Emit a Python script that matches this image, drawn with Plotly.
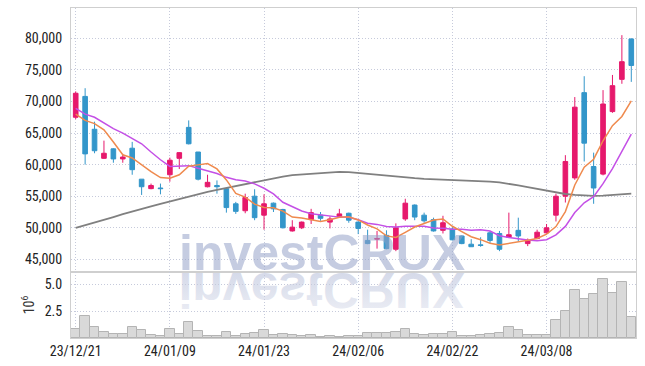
import base64
import plotly.graph_objects as go
from plotly.subplots import make_subplots

dates = ["23/12/21", "23/12/22", "23/12/26", "23/12/27", "23/12/28",
         "24/01/02", "24/01/03", "24/01/04", "24/01/05", "24/01/08",
         "24/01/09", "24/01/10", "24/01/11", "24/01/12", "24/01/15",
         "24/01/16", "24/01/17", "24/01/18", "24/01/19", "24/01/22",
         "24/01/23", "24/01/24", "24/01/25", "24/01/26", "24/01/29",
         "24/01/30", "24/01/31", "24/02/01", "24/02/02", "24/02/05",
         "24/02/06", "24/02/07", "24/02/08", "24/02/13", "24/02/14",
         "24/02/15", "24/02/16", "24/02/19", "24/02/20", "24/02/21",
         "24/02/22", "24/02/23", "24/02/26", "24/02/27", "24/02/28",
         "24/02/29", "24/03/04", "24/03/05", "24/03/06", "24/03/07",
         "24/03/08", "24/03/11", "24/03/12", "24/03/13", "24/03/14",
         "24/03/15", "24/03/18", "24/03/19", "24/03/20", "24/03/21"]

open_ = [67500, 70800, 65600, 61000, 62500, 60900, 62600, 57700, 56200, 56300,
         58400, 61000, 65900, 62000, 56500, 56700, 56200, 53800, 52700, 55000,
         52000, 53900, 52900, 49500, 50000, 51300, 52000, 50900, 51700, 52300,
         50900, 48000, 48200, 48800, 46600, 51400, 53600, 52000, 51300, 49600,
         49800, 48700, 47400, 47300, 49200, 49100, 48500, 49600, 47500, 48300,
         49200, 52000, 55000, 57900, 71400, 59700, 58500, 68400, 73500, 79900]
high = [71600, 72100, 66800, 63800, 62600, 61700, 63600, 57700, 57000, 57000,
        61100, 62000, 67000, 62000, 58400, 57500, 56300, 54100, 55400, 56100,
        55300, 54000, 53000, 51200, 51000, 53000, 52500, 51800, 53000, 52400,
        51000, 49700, 49500, 49600, 50700, 54600, 53700, 52400, 51600, 51900,
        50100, 48800, 48200, 48500, 49500, 49500, 52400, 51600, 48300, 49700,
        50600, 55400, 61500, 70700, 74000, 61900, 71800, 74200, 80500, 80000]
low = [67200, 60000, 61800, 60900, 60300, 60300, 58400, 55200, 56100, 55300,
       57300, 59300, 63200, 57500, 56400, 55400, 52400, 52200, 52300, 51200,
       49700, 52500, 49900, 49400, 49800, 50600, 51100, 49900, 51700, 50800,
       49000, 47400, 46700, 46600, 46300, 51100, 51200, 50800, 49400, 49100,
       48000, 47400, 47000, 47000, 47600, 46300, 48400, 47900, 47100, 48200,
       49100, 51000, 54000, 57600, 60500, 53800, 58300, 68200, 72800, 73100]
close = [71300, 61700, 62200, 61800, 60900, 61200, 59200, 56500, 56700, 56200,
         60700, 61900, 63300, 57700, 57200, 56500, 53200, 52600, 54800, 51600,
         53800, 53000, 50000, 50100, 50900, 52400, 51500, 51400, 52200, 51200,
         49900, 47500, 48300, 46700, 50000, 53900, 51700, 51100, 49500, 50800,
         48100, 47500, 47000, 47200, 48000, 46600, 48900, 48700, 48000, 49300,
         50000, 55000, 60500, 69100, 63400, 56300, 69600, 72500, 76300, 75700]

ma5 = [68000, 67000, 66500, 65500, 63580, 61560, 61060, 59920, 58900, 57960,
       57860, 58400, 59760, 59960, 60160, 59320, 57580, 55440, 54860, 53740,
       53200, 53160, 52640, 51700, 51560, 51280, 50980, 51260, 51680, 51740,
       51240, 50440, 49820, 48720, 48480, 49280, 50120, 50680, 51240, 51400,
       50240, 49400, 48580, 48120, 47560, 47260, 47540, 47880, 48040, 48300,
       48980, 50200, 52560, 56780, 59600, 60860, 63780, 66180, 67620, 70080]
ma10 = [68900, 68000, 67500, 66600, 65700, 65000, 64200, 63300, 62000, 60770,
        59710, 59730, 59840, 59430, 59060, 58590, 57990, 57600, 57410, 56950,
        56260, 55370, 54040, 53280, 52650, 52240, 52070, 51950, 51690, 51650,
        51260, 50710, 50540, 50200, 50110, 50260, 50280, 50250, 49980, 49940,
        49760, 49760, 49630, 49680, 49480, 48750, 48470, 48230, 48080, 47930,
        48120, 48870, 50220, 52410, 53950, 54920, 56990, 59370, 62200, 64840]
ma60 = [50000, 50400, 50800, 51250, 51700, 52150, 52600, 53000, 53400, 53800,
        54200, 54600, 55000, 55350, 55700, 56000, 56300, 56650, 57000, 57250,
        57500, 57800, 58100, 58350, 58450, 58600, 58700, 58800, 58860, 58800,
        58650, 58500, 58350, 58200, 58050, 57950, 57850, 57750, 57700, 57650,
        57550, 57500, 57450, 57350, 57300, 57200, 57000, 56700, 56450, 56150,
        55850, 55550, 55350, 55200, 55100, 55050, 55100, 55200, 55300, 55400]

volume_m = [0.84, 2.09, 1.03, 0.56, 0.38, 0.38, 1.03, 0.75, 0.28, 0.16,
            0.84, 0.38, 1.50, 0.66, 0.19, 0.19, 0.56, 0.19, 0.38, 0.47,
            0.75, 0.28, 0.38, 0.28, 0.19, 0.28, 0.09, 0.19, 0.12, 0.15,
            0.22, 0.50, 0.44, 0.50, 0.60, 0.88, 0.41, 0.28, 0.34, 0.41,
            0.60, 0.19, 0.19, 0.31, 0.41, 0.50, 1.06, 0.78, 0.31, 0.31,
            0.31, 1.69, 2.56, 4.44, 3.66, 4.06, 5.53, 4.16, 5.19, 2.00]

price_ticks = [45000, 50000, 55000, 60000, 65000, 70000, 75000, 80000]
price_tick_labels = ["45,000", "50,000", "55,000", "60,000", "65,000",
                     "70,000", "75,000", "80,000"]
vol_ticks = [2.5, 5.0]
vol_tick_labels = ["2.5", "5.0"]
date_ticks = ["23/12/21", "24/01/09", "24/01/23", "24/02/06", "24/02/22", "24/03/08"]
watermark = "investCRUX"

RED = "#e6196c"
BLUE = "#3396ca"
GRID = "#c6cadb"
BORDER = "#cfcfcf"
FONT = "Roboto Condensed, Roboto, sans-serif"
TICKFONT = dict(family=FONT, size=14, color="#222222")

fig = make_subplots(rows=2, cols=1, shared_xaxes=True, vertical_spacing=0,
                    row_heights=[0.8, 0.2])

fig.add_trace(go.Candlestick(
    x=dates, open=open_, high=high, low=low, close=close,
    increasing=dict(line=dict(color=RED, width=1), fillcolor=RED),
    decreasing=dict(line=dict(color=BLUE, width=1), fillcolor=BLUE),
    whiskerwidth=0, showlegend=False, hoverinfo="skip"), row=1, col=1)

fig.add_trace(go.Scatter(x=dates, y=ma60, mode="lines",
                         line=dict(color="#808080", width=1.8),
                         showlegend=False, hoverinfo="skip"), row=1, col=1)
fig.add_trace(go.Scatter(x=dates, y=ma10, mode="lines",
                         line=dict(color="#c450e6", width=1.5),
                         showlegend=False, hoverinfo="skip"), row=1, col=1)
fig.add_trace(go.Scatter(x=dates, y=ma5, mode="lines",
                         line=dict(color="#ef8a4e", width=1.5),
                         showlegend=False, hoverinfo="skip"), row=1, col=1)

fig.add_trace(go.Bar(x=dates, y=volume_m,
                     marker=dict(color="#d9d9d9", line=dict(color="#b4b4b4", width=1)),
                     showlegend=False, hoverinfo="skip"), row=2, col=1)

axis_common = dict(showline=True, mirror=True, linecolor=BORDER, linewidth=1,
                   showgrid=True, gridcolor=GRID, griddash="1px,2px", gridwidth=1,
                   zeroline=False, ticks="", automargin=False)

fig.update_xaxes(type="category", range=[-0.5, len(dates) - 0.5],
                 tickvals=date_ticks, ticktext=date_ticks,
                 rangeslider=dict(visible=False), **axis_common)
fig.update_xaxes(showticklabels=False, row=1, col=1)
fig.update_xaxes(showticklabels=True, tickfont=TICKFONT, row=2, col=1)

fig.update_yaxes(range=[43000, 84800], tickvals=price_ticks, ticktext=price_tick_labels,
                 tickfont=TICKFONT, ticklabelstandoff=5, row=1, col=1, **axis_common)
fig.update_yaxes(range=[0, 6.15], tickvals=vol_ticks, ticktext=vol_tick_labels,
                 tickfont=TICKFONT, ticklabelstandoff=5,
                 title=dict(text="10<sup>6</sup>", font=dict(family=FONT, size=14, color="#333"),
                            standoff=6),
                 row=2, col=1, **axis_common)

W, H = 645, 366
ml, mr, mt, mb = 71, 9, 8, 28
pw, ph = W - ml - mr, H - mt - mb

def px_x(px):
    return (px - ml) / pw

def px_y(py):
    return (H - mb - py) / ph

# watermark
fig.add_annotation(text="<b>" + watermark + "</b>", xref="paper", yref="paper",
                   x=px_x(321.5), y=px_y(283), xanchor="center", yanchor="bottom",
                   showarrow=False,
                   font=dict(family="Liberation Sans, Arial, sans-serif", size=50,
                             color="rgba(150,163,200,0.55)"))

svg = ("<svg xmlns='http://www.w3.org/2000/svg' width='300' height='50'>"
       "<defs><linearGradient id='g' gradientUnits='userSpaceOnUse' x1='0' y1='0' x2='0' y2='-42'>"
       "<stop offset='0' stop-color='#c8cee2' stop-opacity='0.75'/>"
       "<stop offset='1' stop-color='#c8cee2' stop-opacity='0.35'/>"
       "</linearGradient></defs>"
       "<text x='150' y='0' text-anchor='middle' transform='scale(1,-1)' "
       "font-family='Liberation Sans, Arial, sans-serif' font-weight='bold' font-size='50' "
       "fill='url(#g)'>" + watermark + "</text></svg>")
src = "data:image/svg+xml;base64," + base64.b64encode(svg.encode()).decode()
fig.add_layout_image(dict(source=src, xref="paper", yref="paper",
                          x=px_x(171.5), y=px_y(273), sizex=300 / pw, sizey=50 / ph,
                          xanchor="left", yanchor="top", sizing="stretch",
                          layer="below"))

fig.update_layout(width=W, height=H, margin=dict(l=ml, r=mr, t=mt, b=mb),
                  paper_bgcolor="white", plot_bgcolor="white",
                  bargap=0, showlegend=False,
                  font=dict(family=FONT, color="#333"))

fig.write_html("out.html", config={"displayModeBar": False},
               post_script="document.body.style.margin='0';document.body.style.overflow='hidden';")
